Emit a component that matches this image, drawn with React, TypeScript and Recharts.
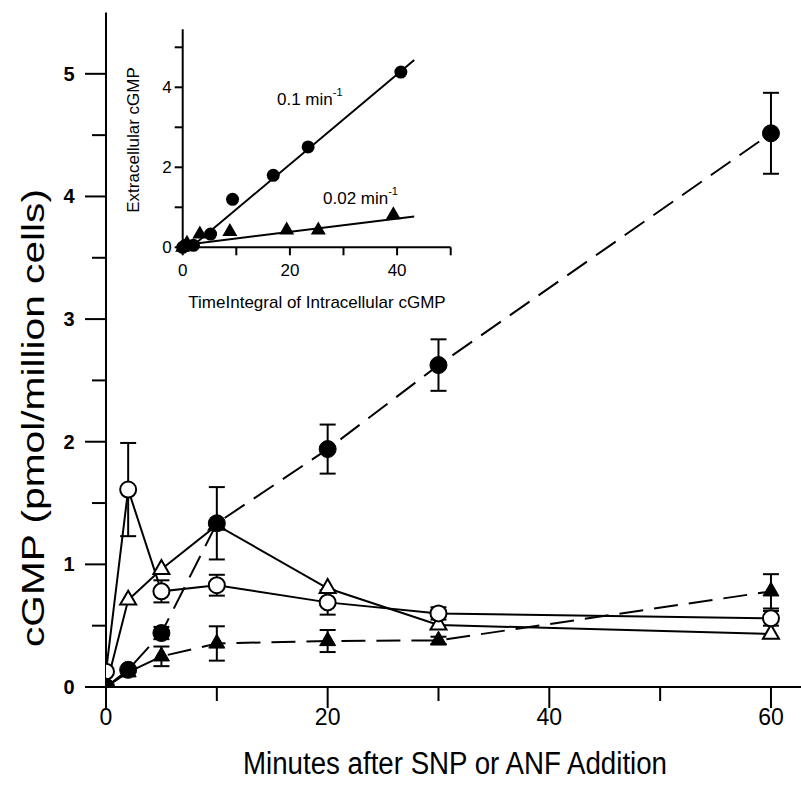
import React from 'react';
import { ComposedChart, Line, XAxis, YAxis, ErrorBar, Scatter } from 'recharts';

// ---- Main chart data ----
const minutes = [0, 2, 5, 10, 20, 30, 60];
const openCircleVals = [0.125, 1.61, 0.78, 0.83, 0.69, 0.6, 0.56];
const openCircleErr = [null, 0.38, 0.09, 0.085, 0.1, 0.05, 0.06];
const openTriangleVals = [0, 0.71, 0.96, 1.32, 0.805, 0.506, 0.432];
const openTriangleErr = [null, null, null, null, null, null, null];
const filledCircleVals = [0, 0.14, 0.44, 1.335, 1.94, 2.625, 4.515];
const filledCircleErr = [null, null, 0.05, 0.295, 0.2, 0.21, 0.33];
const filledTriangleVals = [0, 0.12, 0.25, 0.355, 0.375, 0.38, 0.78];
const filledTriangleErr = [null, null, 0.08, 0.14, 0.09, 0.03, 0.14];

const mainXTicks = [0, 10, 20, 30, 40, 50, 60];
const mainXLabels = [0, 20, 40, 60];
const mainYTicks = [0, 0.5, 1, 1.5, 2, 2.5, 3, 3.5, 4, 4.5, 5];
const mainYLabels = [0, 1, 2, 3, 4, 5];

// ---- Inset data ----
const insetCircleX = [0, 0.5, 2.0, 5.2, 9.3, 16.9, 23.4, 40.7];
const insetCircleY = [0, 0.05, 0.05, 0.33, 1.2, 1.8, 2.51, 4.38];
const insetTriangleX = [0, 0.8, 3.2, 8.8, 19.4, 25.3, 39.3];
const insetTriangleY = [0, 0.1, 0.33, 0.39, 0.43, 0.43, 0.81];
const fitCircleX = [2.0, 43.2];
const fitCircleY = [0.05, 4.68];
const fitTriangleX = [1.0, 43.2];
const fitTriangleY = [0.07, 0.77];
const insetXTicks = [0, 10, 20, 30, 40, 50];
const insetXLabels = [0, 20, 40];
const insetYTicks = [0, 1, 2, 3, 4, 5];
const insetYLabels = [0, 2, 4];

const zipSeries = (xs: number[], ys: number[], es?: (number | null)[]) =>
  xs.map((x, i) => ({ x, y: ys[i], err: es ? es[i] : null }));

const openCircle = zipSeries(minutes, openCircleVals, openCircleErr);
const openTriangle = zipSeries(minutes, openTriangleVals, openTriangleErr);
const filledCircle = zipSeries(minutes, filledCircleVals, filledCircleErr);
const filledTriangle = zipSeries(minutes, filledTriangleVals, filledTriangleErr);
const insetCircles = zipSeries(insetCircleX, insetCircleY);
const insetTriangles = zipSeries(insetTriangleX, insetTriangleY);
const fitCircle = zipSeries(fitCircleX, fitCircleY);
const fitTriangle = zipSeries(fitTriangleX, fitTriangleY);

const FONT = "'Liberation Sans', Arial, Helvetica, sans-serif";
const NARROW = "'Liberation Sans Narrow', 'Arial Narrow', 'Liberation Sans', Arial, sans-serif";

const triPoints = (cx: number, cy: number, half: number) => {
  const h = half * 1.732;
  return `${cx},${cy - (2 * h) / 3} ${cx - half},${cy + h / 3} ${cx + half},${cy + h / 3}`;
};

const makeDot = (kind: 'oc' | 'fc' | 'ot' | 'ft', size: number) => (props: any) => {
  const { cx, cy, index } = props;
  if (cx == null || cy == null) return <g key={`e-${index}`} />;
  if (kind === 'oc')
    return <circle key={`d-${index}`} cx={cx} cy={cy} r={size} fill="#fff" stroke="#000" strokeWidth={2} />;
  if (kind === 'fc') return <circle key={`d-${index}`} cx={cx} cy={cy} r={size} fill="#000" stroke="#000" strokeWidth={1} />;
  if (kind === 'ot')
    return <polygon key={`d-${index}`} points={triPoints(cx, cy, size)} fill="#fff" stroke="#000" strokeWidth={2} />;
  return <polygon key={`d-${index}`} points={triPoints(cx, cy, size)} fill="#000" stroke="#000" strokeWidth={1} />;
};

const MainXTick = (props: any) => {
  const { x, y, payload } = props;
  const major = mainXLabels.includes(payload.value);
  return (
    <g>
      <line x1={x} y1={y} x2={x} y2={y + (major ? 21 : 14)} stroke="#000" strokeWidth={2} />
      {major && (
        <text x={x} y={y + 30} textAnchor="middle" dominantBaseline="central" fontFamily={NARROW} fontSize={23} fill="#000">
          {payload.value}
        </text>
      )}
    </g>
  );
};

const MainYTick = (props: any) => {
  const { x, y, payload } = props;
  const major = mainYLabels.includes(payload.value);
  return (
    <g>
      <line x1={x} y1={y} x2={x - (major ? 21 : 14)} y2={y} stroke="#000" strokeWidth={2} />
      {major && (
        <text x={x - 37} y={y} textAnchor="middle" dominantBaseline="central" fontFamily={FONT} fontWeight="bold" fontSize={20} fill="#000">
          {payload.value}
        </text>
      )}
    </g>
  );
};

const InsetXTick = (props: any) => {
  const { x, y, payload } = props;
  const major = insetXLabels.includes(payload.value);
  return (
    <g>
      <line x1={x} y1={y} x2={x} y2={y + 8} stroke="#000" strokeWidth={2} />
      {major && (
        <text x={x} y={y + 23} textAnchor="middle" dominantBaseline="central" fontFamily={FONT} fontSize={17} fill="#000">
          {payload.value}
        </text>
      )}
    </g>
  );
};

const InsetYTick = (props: any) => {
  const { x, y, payload } = props;
  const major = insetYLabels.includes(payload.value);
  return (
    <g>
      <line x1={x} y1={y} x2={x - 8} y2={y} stroke="#000" strokeWidth={2} />
      {major && (
        <text x={x - 11} y={y} textAnchor="end" dominantBaseline="central" fontFamily={FONT} fontSize={17} fill="#000">
          {payload.value}
        </text>
      )}
    </g>
  );
};

export default function App() {
  return (
    <div style={{ position: 'absolute', left: 0, top: 0, width: 801, height: 785, background: '#fff' }}>
      <div style={{ position: 'absolute', left: 0, top: 0 }}>
        <ComposedChart width={801} height={785} margin={{ top: 12.5, right: 0, bottom: 0, left: 0 }}>
          <XAxis
            dataKey="x"
            type="number"
            domain={[0, 62.71]}
            ticks={mainXTicks}
            interval={0}
            allowDataOverflow
            height={98}
            tickSize={0}
            tickMargin={0}
            tickLine={false}
            tick={<MainXTick />}
            axisLine={{ stroke: '#000', strokeWidth: 2 }}
            label={{
              content: () => (
                <text
                  x={455}
                  y={763}
                  textAnchor="middle"
                  dominantBaseline="central"
                  fontFamily={NARROW}
                  fontSize={31}
                  textLength={424}
                  lengthAdjust="spacingAndGlyphs"
                  fill="#000"
                >
                  Minutes after SNP or ANF Addition
                </text>
              ),
            }}
          />
          <XAxis
            xAxisId="top"
            orientation="top"
            type="number"
            domain={[0, 62.71]}
            height={0}
            tick={false}
            tickLine={false}
            axisLine={{ stroke: '#000', strokeWidth: 2 }}
          />
          <YAxis
            type="number"
            domain={[0, 5.5]}
            ticks={mainYTicks}
            interval={0}
            allowDataOverflow
            width={106}
            tickSize={0}
            tickMargin={0}
            tickLine={false}
            tick={<MainYTick />}
            axisLine={{ stroke: '#000', strokeWidth: 2 }}
            label={{
              content: () => (
                <text
                  transform="translate(33,418) rotate(-90)"
                  textAnchor="middle"
                  dominantBaseline="central"
                  fontFamily={FONT}
                  fontSize={31}
                  textLength={458}
                  lengthAdjust="spacingAndGlyphs"
                  fill="#000"
                >
                  cGMP (pmol/million cells)
                </text>
              ),
            }}
          />
          <Line
            data={openTriangle}
            dataKey="y"
            stroke="#000"
            strokeWidth={2}
            dot={makeDot('ot', 8)}
            isAnimationActive={false}
          >
            <ErrorBar dataKey="err" direction="y" width={8} stroke="#000" strokeWidth={2} />
          </Line>
          <Line
            data={openCircle}
            dataKey="y"
            stroke="#000"
            strokeWidth={2}
            dot={makeDot('oc', 8)}
            isAnimationActive={false}
          >
            <ErrorBar dataKey="err" direction="y" width={8} stroke="#000" strokeWidth={2} />
          </Line>
          <Line
            data={filledTriangle}
            dataKey="y"
            stroke="#000"
            strokeWidth={2}
            strokeDasharray="24 11"
            dot={makeDot('ft', 8)}
            isAnimationActive={false}
          >
            <ErrorBar dataKey="err" direction="y" width={8} stroke="#000" strokeWidth={2} />
          </Line>
          <Line
            data={filledCircle}
            dataKey="y"
            stroke="#000"
            strokeWidth={2}
            strokeDasharray="24 11"
            dot={makeDot('fc', 8.5)}
            isAnimationActive={false}
          >
            <ErrorBar dataKey="err" direction="y" width={8} stroke="#000" strokeWidth={2} />
          </Line>
        </ComposedChart>
      </div>

      <div style={{ position: 'absolute', left: 100, top: 0 }}>
        <ComposedChart width={400} height={320} margin={{ top: 29.3, right: 49.3, bottom: 32.7, left: 42.7 }}>
          <XAxis
            dataKey="x"
            type="number"
            domain={[0, 50]}
            ticks={insetXTicks}
            interval={0}
            height={40}
            tickSize={0}
            tickMargin={0}
            tickLine={false}
            tick={<InsetXTick />}
            axisLine={{ stroke: '#000', strokeWidth: 2 }}
            label={{
              content: () => (
                <text x={217} y={302} textAnchor="middle" dominantBaseline="central" fontFamily={FONT} fontSize={17} fill="#000">
                  TimeIntegral of Intracellular cGMP
                </text>
              ),
            }}
          />
          <YAxis
            type="number"
            domain={[0, 5.45]}
            ticks={insetYTicks}
            interval={0}
            width={40}
            tickSize={0}
            tickMargin={0}
            tickLine={false}
            tick={<InsetYTick />}
            axisLine={{ stroke: '#000', strokeWidth: 2 }}
            label={{
              content: () => (
                <text
                  transform="translate(33,140) rotate(-90)"
                  textAnchor="middle"
                  dominantBaseline="central"
                  fontFamily={FONT}
                  fontSize={17}
                  fill="#000"
                >
                  Extracellular cGMP
                </text>
              ),
            }}
          />
          <Line data={fitCircle} dataKey="y" stroke="#000" strokeWidth={2} dot={false} isAnimationActive={false} />
          <Line data={fitTriangle} dataKey="y" stroke="#000" strokeWidth={2} dot={false} isAnimationActive={false} />
          <Scatter
            data={insetTriangles}
            dataKey="y"
            isAnimationActive={false}
            shape={(p: any) => <polygon points={triPoints(p.cx, p.cy, 7.5)} fill="#000" />}
          />
          <Scatter
            data={insetCircles}
            dataKey="y"
            isAnimationActive={false}
            shape={(p: any) => <circle cx={p.cx} cy={p.cy} r={6.5} fill="#000" />}
          />
        </ComposedChart>
        <svg width={400} height={320} style={{ position: 'absolute', left: 0, top: 0, pointerEvents: 'none' }}>
          <text x={177} y={99} dominantBaseline="central" fontFamily={FONT} fontSize={17} fill="#000">
            0.1 min<tspan fontSize={11} dy={-7}>-1</tspan>
          </text>
          <text x={223} y={198} dominantBaseline="central" fontFamily={FONT} fontSize={17} fill="#000">
            0.02 min<tspan fontSize={11} dy={-7}>-1</tspan>
          </text>
        </svg>
      </div>
    </div>
  );
}
